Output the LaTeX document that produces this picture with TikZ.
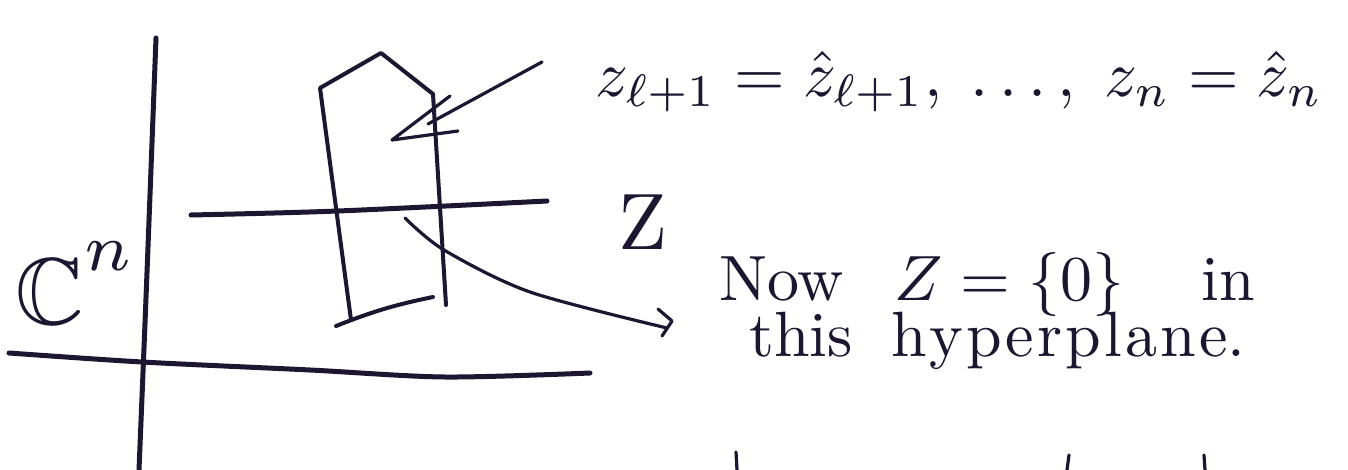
\documentclass[tikz,border=0pt]{standalone}
\usepackage{amsmath,amssymb}
\definecolor{ink}{RGB}{28,22,48}
\begin{document}
\begin{tikzpicture}[x=1pt,y=-1pt,line cap=round,line join=round,
  axisline/.style={draw=ink,line width=5pt},
  inkline/.style={draw=ink,line width=4pt},
  fineline/.style={draw=ink,line width=3.2pt},
  lbl/.style={text=ink,inner sep=0pt,anchor=base west}]
\useasboundingbox[fill=white] (0,0) rectangle (1348,470);
% coordinates
\coordinate (vt) at (156,38);
\coordinate (vc) at (146,300);
\coordinate (vb) at (139,470);
\coordinate (ha1) at (9,353);
\coordinate (ha2) at (142,362);
\coordinate (ha3) at (310,370);
\coordinate (ha4) at (445,377);
\coordinate (ha5) at (590,373);
\coordinate (zl1) at (191,215);
\coordinate (zl2) at (338,211);
\coordinate (zl3) at (547,201);
\coordinate (p1) at (351,320);
\coordinate (p2) at (320,88);
\coordinate (p3) at (381,53);
\coordinate (p4) at (433,94);
\coordinate (p5) at (446,305);
\coordinate (b1) at (336,326);
\coordinate (b2) at (433,297);
\coordinate (a0) at (542,62);
\coordinate (a1) at (428,124);
\coordinate (tip) at (392,140);
\coordinate (hb1) at (450,96);
\coordinate (hb2) at (458,131);
\coordinate (c0) at (405,218);
\coordinate (c1) at (444,250);
\coordinate (c2) at (530,292);
\coordinate (c3) at (667,328);
\coordinate (ch1) at (658,309);
\coordinate (ch2) at (672,321);
\coordinate (ch3) at (662,336);
% axes
\draw[axisline] (vt) .. controls (vc) .. (vb);
\draw[axisline] plot[smooth] coordinates {(ha1) (ha2) (ha3) (ha4) (ha5)};
\draw[axisline] plot[smooth] coordinates {(zl1) (zl2) (zl3)};
% polygon (hyperplane)
\draw[inkline] (p1) -- (p2) -- (p3) -- (p4) -- (p5);
\draw[inkline] (b1) to[bend left=5] (b2);
% arrow to hyperplane
\draw[fineline] (a0) -- (a1);
\draw[fineline] (hb1) -- (tip) -- (hb2);
% curved arrow
\draw[fineline] plot[smooth] coordinates {(c0) (c1) (c2) (c3)};
\draw[fineline] (ch1) -- (ch2) -- (ch3);
% labels
\node[lbl,scale=9.5] (cn) at (14,324) {$\mathbb{C}^{\raisebox{2pt}{$\scriptstyle n$}}$};
\node[lbl,scale=6.5] (eq) at (594,97) {$z_{\ell+1}=\hat z_{\ell+1},\;\dots,\;z_n=\hat z_n$};
\node[lbl,scale=8] (zlab) at (617,250) {Z};
\node[lbl,scale=6.4] (now) at (718,300) {Now\hspace{8pt}$Z=\{0\}$\hspace{12pt}in};
\node[lbl,scale=6.4] (hyp) at (748,356) {this\hspace{6pt}h\kern0.5pt y\kern0.5pt p\kern0.5pt e\kern0.5pt r\kern0.5pt p\kern0.5pt l\kern0.5pt a\kern0.5pt n\kern0.5pt e.};
% fragments of the next line
\coordinate (f1) at (736,452);
\coordinate (f1b) at (737,470);
\coordinate (f2) at (1069,455);
\coordinate (f2b) at (1067,470);
\coordinate (f3) at (1204,455);
\coordinate (f3b) at (1205,470);
\draw[fineline] (f1) -- (f1b);
\draw[fineline] (f2) -- (f2b);
\draw[fineline] (f3) -- (f3b);
\end{tikzpicture}
\end{document}
